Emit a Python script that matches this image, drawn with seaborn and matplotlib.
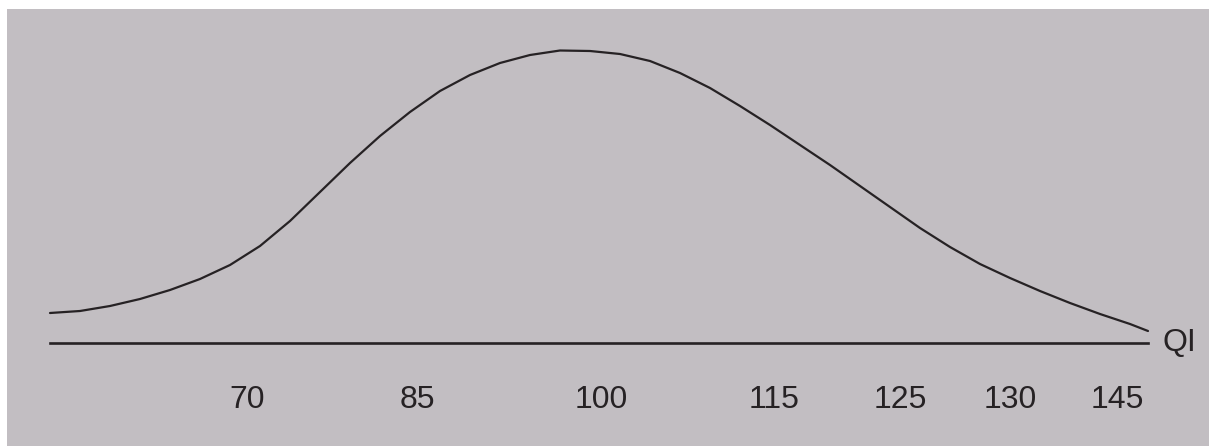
import matplotlib
matplotlib.use("Agg")
import pandas as pd
import seaborn as sns
import matplotlib.pyplot as plt

# curve: position along the axis (px) and height above the baseline
pos = [50, 80, 110, 140, 170, 200, 230, 260, 290, 320, 350, 380, 410, 440, 470, 500,
       530, 560, 590, 620, 650, 680, 710, 740, 770, 800, 830, 860, 890, 920, 950, 980,
       1010, 1040, 1070, 1100, 1130, 1148]
height = [30, 32, 37, 44, 53, 64, 78, 97, 122, 151, 180, 207, 231, 252, 268, 280,
          288, 292.5, 292, 289, 282, 270, 255, 237, 218, 198, 178, 157, 136, 115, 96, 79,
          65, 52, 40, 29, 19, 12]

tick_pos = [247, 417, 601, 774, 900, 1010, 1117]
tick_labels = ["70", "85", "100", "115", "125", "130", "145"]
axis_label = "QI"

df = pd.DataFrame({"pos": pos, "height": height})

sns.set_style("white")
plt.rcParams["font.family"] = ["Liberation Sans", "DejaVu Sans"]

ink = "#262224"
paper = "#c2bec2"

fig = plt.figure(figsize=(12.09, 4.46), dpi=100, facecolor="white")
ax = fig.add_axes([7 / 1209, 0, 1 - 7 / 1209, 1 - 9 / 446])
ax.set_facecolor(paper)

sns.lineplot(data=df, x="pos", y="height", ax=ax, color=ink, linewidth=1.6)

ax.set_xlim(7, 1209)
ax.set_ylim(-103, 334)

for side in ["top", "right", "left"]:
    ax.spines[side].set_visible(False)
ax.spines["bottom"].set_position(("data", 0))
ax.spines["bottom"].set_bounds(50, 1148)
ax.spines["bottom"].set_color(ink)
ax.spines["bottom"].set_linewidth(1.9)

ax.set_xticks(tick_pos, tick_labels)
ax.tick_params(axis="x", length=0, pad=30, labelsize=23, labelcolor=ink)
ax.set_yticks([])
ax.set_xlabel("")
ax.set_ylabel("")

ax.text(1162, 0, axis_label, fontsize=23, color=ink, va="center", ha="left")

fig.savefig("out.png", dpi=100, facecolor=fig.get_facecolor())
